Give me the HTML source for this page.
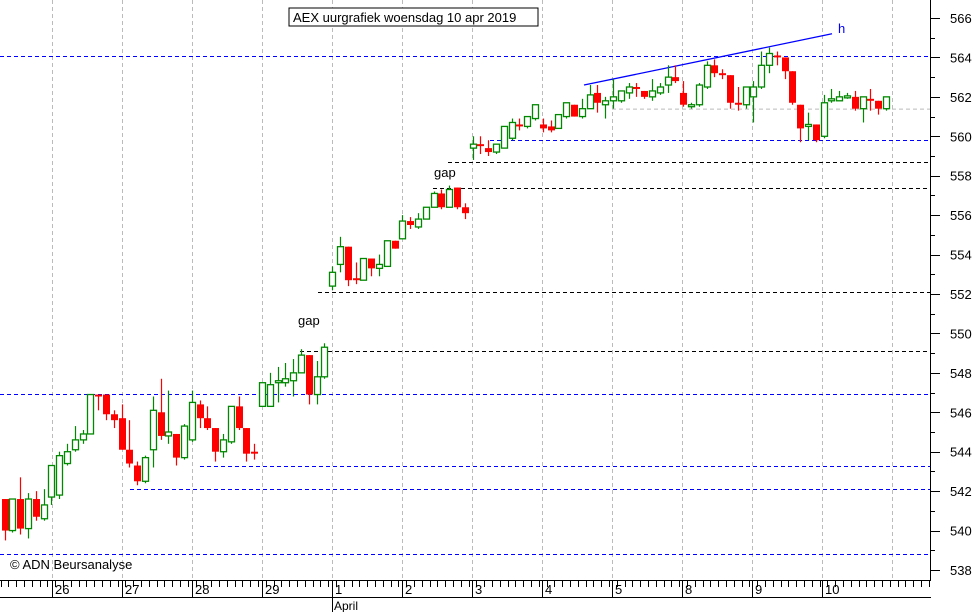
<!DOCTYPE html>
<html><head><meta charset="utf-8"><style>
body{margin:0;background:#fff;}
svg{display:block;font-family:"Liberation Sans",sans-serif;}
</style></head><body>
<svg id="chart" width="979" height="612" xmlns="http://www.w3.org/2000/svg">
<rect x="0" y="0" width="979" height="612" fill="#fff"/>
<g id="grid"></g>
<g id="levels"></g>
<g id="candles"></g>
<g id="axes"></g>
<rect x="289" y="8" width="249" height="18" fill="#fff" stroke="#000" stroke-width="1"/>
<text x="293" y="22" font-size="13" fill="#000">AEX uurgrafiek woensdag 10 apr 2019</text>
<text x="298" y="325" font-size="13" fill="#000">gap</text>
<text x="434" y="177" font-size="13" fill="#000">gap</text>
<text x="838" y="33" font-size="13" fill="#00f">h</text>
<text x="10" y="569" font-size="13" fill="#000">© ADN Beursanalyse</text>
</svg>
<script>
const opens=[541.6,540.0,541.6,540.1,541.6,540.6,541.7,541.8,543.4,544.1,544.6,544.9,546.9,546.9,545.9,545.7,544.1,543.3,542.5,544.1,546.0,544.8,544.9,543.7,544.6,546.4,545.7,545.2,544.0,544.5,546.3,545.2,544.0,546.3,546.3,547.5,547.5,547.6,548.0,548.9,546.9,547.8,552.4,553.5,554.4,552.8,552.7,553.8,553.3,553.4,554.7,554.8,555.7,555.4,555.8,556.4,557.1,556.4,557.4,556.4,559.4,559.6,559.4,559.2,559.4,559.9,560.6,560.5,560.9,560.6,560.5,560.4,561.0,561.6,561.0,561.4,562.2,561.6,561.8,561.8,562.2,562.5,562.3,562.0,562.2,562.6,563.0,562.2,561.5,561.6,562.5,563.6,563.2,563.1,561.7,561.6,562.0,562.5,563.6,564.1,564.0,563.3,561.6,560.5,560.6,560.0,561.8,561.8,561.95,562.0,561.4,561.9,561.8,561.4];
const highs=[541.6,541.6,542.7,541.9,542.0,542.1,543.3,544.0,544.4,545.3,545.1,546.9,546.9,546.9,546.1,546.4,545.6,543.5,543.8,546.8,547.7,547.1,544.9,545.4,547.1,546.6,546.3,545.2,544.9,546.3,546.8,545.2,544.4,547.5,548.0,548.3,548.5,548.7,549.2,548.9,548.6,549.5,553.4,554.9,554.4,553.6,553.8,553.8,554.0,554.7,554.7,556.0,555.9,556.1,556.4,557.2,557.3,557.5,557.4,556.6,560.0,560.0,559.8,559.6,560.5,560.9,560.9,561.0,561.6,560.9,560.8,561.1,561.7,561.6,561.9,562.6,562.6,562.0,562.9,562.3,562.7,562.7,562.3,562.9,562.7,563.6,563.6,562.8,561.7,562.7,563.8,563.9,563.4,563.1,562.5,562.5,562.8,564.3,564.5,564.3,564.0,563.3,561.6,561.2,560.6,562.1,562.4,562.3,562.2,562.3,562.0,562.4,561.8,562.0];
const lows=[539.5,539.9,539.8,539.6,540.5,540.5,541.3,541.6,543.3,544.0,544.4,544.9,546.1,545.6,545.2,544.1,543.2,542.3,542.4,543.2,544.6,544.4,543.3,543.6,544.5,545.2,545.1,543.5,543.7,544.4,545.1,543.5,543.6,546.3,546.3,546.5,547.3,546.8,548.0,546.4,546.4,547.7,552.2,553.1,552.4,552.5,552.7,552.9,552.9,553.4,554.3,554.8,555.3,555.3,555.8,556.4,556.3,556.4,556.3,555.8,558.8,559.1,559.0,559.1,559.4,559.8,560.3,560.4,560.8,560.2,560.2,560.4,560.9,561.0,560.9,561.4,561.2,560.9,561.4,561.7,561.9,562.0,561.9,561.8,562.1,562.2,562.7,561.5,561.4,561.5,562.4,563.0,562.9,561.4,561.3,561.4,560.7,562.4,563.2,563.6,562.9,561.6,559.7,559.8,559.7,559.9,561.7,561.8,561.9,561.3,560.7,561.3,561.1,561.3];
const closes=[540.0,541.6,540.1,541.6,540.7,541.3,543.3,543.8,544.0,544.6,544.9,546.9,546.8,545.9,545.6,544.1,543.4,542.5,543.7,546.1,544.8,545.0,543.7,545.3,546.5,545.7,545.2,544.0,544.6,546.3,545.2,543.9,543.9,547.5,547.4,547.6,547.7,548.0,548.9,546.9,547.8,549.3,553.1,554.4,552.7,552.7,553.8,553.3,553.5,554.7,554.3,555.7,555.5,555.8,556.4,557.1,556.4,557.3,556.4,556.1,559.6,559.5,559.2,559.6,560.5,560.7,560.5,561.0,561.6,560.4,560.3,561.1,561.7,561.0,561.4,562.1,561.7,561.8,562.0,562.3,562.5,562.4,562.0,562.3,562.5,563.0,562.8,561.6,561.6,562.6,563.6,563.2,563.1,561.7,561.6,562.5,562.5,563.6,564.2,564.0,563.3,561.7,560.4,560.6,559.8,561.7,561.9,562.0,562.05,561.4,562.0,561.8,561.4,562.0];
const yTicks=[566,564,562,560,558,556,554,552,550,548,546,544,542,540,538];
const dayLabels=["26","27","28","29","1","2","3","4","5","8","9","10"];
const levelValues=[564.05,546.95,543.3,542.1,538.8,559.8];
const blackLevels=[552.1,549.1,557.4,558.7];

const NS="http://www.w3.org/2000/svg";
function y(v){return 18+(566-v)*19.714;}
function x(i){return 4.5+i*7.8;}
function dayX(k){return 52+k*70;}
function mk(tag,attrs,parent){const e=document.createElementNS(NS,tag);for(const k in attrs)e.setAttribute(k,attrs[k]);parent.appendChild(e);return e;}
const grid=document.getElementById('grid'),levels=document.getElementById('levels'),cg=document.getElementById('candles'),axes=document.getElementById('axes');

for(let k=0;k<13;k++){
  const l=mk('line',{x1:dayX(k)+.5,x2:dayX(k)+.5,y1:0,y2:580,stroke:'#bbb','stroke-dasharray':'4,3'},grid);
  
  
}
const gl=mk('line',{x1:612,x2:930,y1:y(561.4)+.5,y2:y(561.4)+.5,stroke:'#bbb','stroke-dasharray':'4,3'},grid);



const levelStarts=[0,0,200,130,0,490];
levelValues.forEach((v,i)=>{
  const l=mk('line',{x1:levelStarts[i],x2:930,y1:Math.round(y(v))+.5,y2:Math.round(y(v))+.5,stroke:'#00f','stroke-dasharray':'4,3'},levels);
  
  
});
const blackStarts=[318,300,433,448];
blackLevels.forEach((v,i)=>{
  const l=mk('line',{x1:blackStarts[i],x2:930,y1:Math.round(y(v))+.5,y2:Math.round(y(v))+.5,stroke:'#000','stroke-dasharray':'4,3'},levels);
  
  
});
const tl=mk('line',{x1:584,y1:y(562.6),x2:832,y2:y(565.2),stroke:'#00f','stroke-width':1.3},levels);



for(let i=0;i<opens.length;i++){
  const o=opens[i],c=closes[i],up=c>=o,col=up?'#080':'#f00',cx=Math.round(x(i))+.5;
  const g=mk('g',{},cg);
  
  
  mk('line',{x1:cx,x2:cx,y1:y(highs[i]),y2:y(lows[i]),stroke:col,'stroke-width':1.2},g);
  const top=y(Math.max(o,c)),bot=y(Math.min(o,c));
  const h=Math.max(bot-top,1.5);
  if(up) mk('rect',{x:cx-3,y:top,width:6,height:h,fill:'#fff',stroke:col,'stroke-width':1.3},g);
  else mk('rect',{x:cx-3.5,y:top,width:7,height:h,fill:col},g);
}

mk('line',{x1:930.5,x2:930.5,y1:0,y2:580,stroke:'#000'},axes);
for(let v=538;v<=566;v++){
  const major=v%2===0;
  const t=mk('line',{x1:930,x2:major?940:935,y1:Math.round(y(v))+.5,y2:Math.round(y(v))+.5,stroke:'#000'},axes);
  
  
}
yTicks.forEach(v=>{
  const t=mk('text',{x:950,y:y(v)+5,'font-size':13,fill:'#000'},axes);
  t.textContent=v;
  
  
});
mk('line',{x1:0,x2:931,y1:580.5,y2:580.5,stroke:'#000'},axes);
mk('line',{x1:0,x2:931,y1:597.5,y2:597.5,stroke:'#000'},axes);
for(let i=-1;i<120;i++){
  const tx=Math.round(x(i)+3.9)+.5; if(tx>930)break; if(tx<0)continue;
  const t=mk('line',{x1:tx,x2:tx,y1:580,y2:587,stroke:'#000'},axes);
  
  
}
dayLabels.forEach((d,k)=>{
  const sx=dayX(k)+.5;
  mk('line',{x1:sx,x2:sx,y1:580,y2:k===4?612:597,stroke:'#000'},axes);
  const t=mk('text',{x:dayX(k)+3,y:594,'font-size':13,fill:'#000'},axes);
  t.textContent=d;
  
  
});
const ap=mk('text',{x:334,y:610,'font-size':12,fill:'#000'},axes);
ap.textContent='April';


</script>
</body></html>
